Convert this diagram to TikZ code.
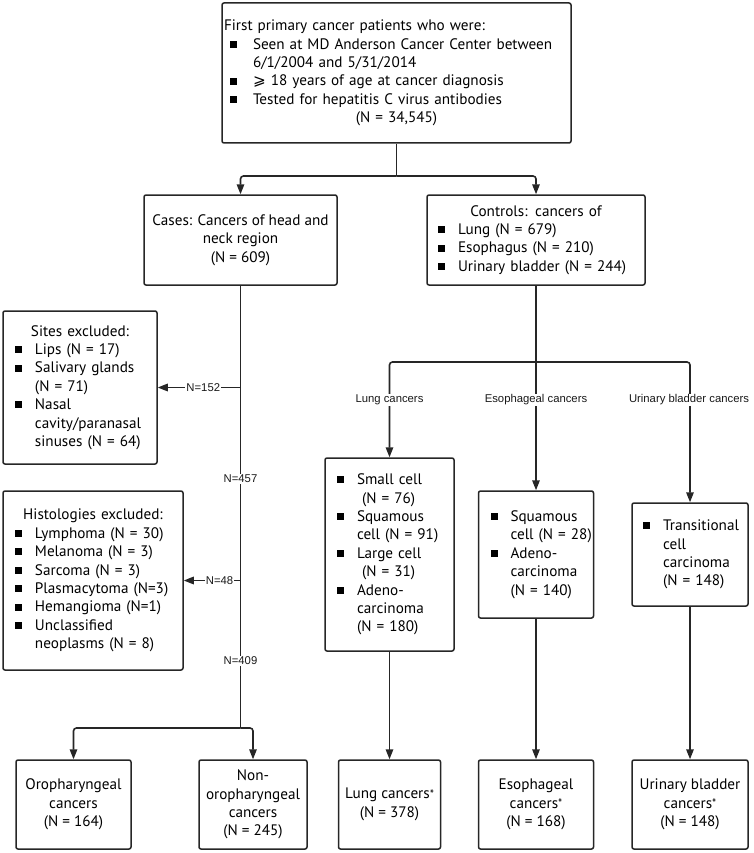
\documentclass[tikz,border=0pt]{standalone}
\usepackage{fontspec}
\setmainfont{PT Sans}
\newfontfamily\lblfont{Liberation Sans}
\newfontfamily\symfont{DejaVu Sans}
\usetikzlibrary{arrows.meta}
\newlength\bo
\newlength\bw
\newcommand{\sq}{\raisebox{1.2pt}{\rule{7pt}{7pt}}}
\newcommand{\bl}[1]{\mbox{\makebox[\bw][l]{\hspace*{\bo}\sq}#1}}
\newcommand{\cl}[1]{\mbox{\hspace*{\bw}#1}}
\newcommand{\ctr}[1]{\makebox[\linewidth]{#1}}
\newcommand{\msz}{\fontsize{15.2}{18.4}\selectfont}
\newcommand{\myast}{{\fontsize{12}{12}\selectfont\raisebox{0.5pt}{*}}}
\tikzset{
  box/.style={draw=black!85, line width=1.5pt, rounded corners=2pt, inner ysep=0pt, font=\msz, text=black},
  lbox/.style={box, align=left},
  cbox/.style={box, align=center, inner xsep=0pt},
  conn/.style={draw=black!85, line width=1.6pt},
  arr/.style={conn, -{Triangle[length=10pt,width=7.5pt]}},
  lbl/.style={fill=white, inner sep=1pt, font=\lblfont\fontsize{11.3}{13}\selectfont, text=black!90}
}
\begin{document}
\begin{tikzpicture}[x=1pt,y=-1pt]
\useasboundingbox (0,0) rectangle (753,853);

% top box
\node[lbox, minimum width=349pt, minimum height=140pt, text width=345pt, inner xsep=2pt] (top) at (396.5,73)
 {\setlength\bo{6pt}\setlength\bw{29pt}First primary cancer patients who were:\\
  \bl{Seen at MD Anderson Cancer Center between}\\
  \cl{6/1/2004 and 5/31/2014}\\
  \bl{{\symfont ⩾} 18 years of age at cancer diagnosis}\\
  \bl{Tested for hepatitis C virus antibodies}\\
  \ctr{(N = 34,545)}};

% cases / controls
\node[cbox, minimum width=193pt, minimum height=90pt] (cases) at (240.5,240)
 {Cases: Cancers of head and\\ neck region\\ (N = 609)};
\node[lbox, minimum width=218pt, minimum height=90pt, text width=196pt, inner xsep=11pt] (controls) at (536,240)
 {\setlength\bo{0pt}\setlength\bw{20pt}\ctr{Controls: cancers of}\\
  \bl{Lung (N = 679)}\\
  \bl{Esophagus (N = 210)}\\
  \bl{Urinary bladder (N = 244)}};

% exclusion boxes
\node[lbox, minimum width=154pt, minimum height=153pt, text width=130pt, inner xsep=12pt] (sites) at (80,387.5)
 {\setlength\bo{0pt}\setlength\bw{20pt}\ctr{Sites excluded:}\\
  \bl{Lips (N = 17)}\\
  \bl{Salivary glands}\\
  \cl{(N = 71)}\\
  \bl{Nasal}\\
  \cl{cavity/paranasal}\\
  \cl{sinuses (N = 64)}};
\node[lbox, minimum width=180pt, minimum height=179pt, text width=156pt, inner xsep=12pt] (histo) at (93,580.5)
 {\setlength\bo{0pt}\setlength\bw{20pt}\ctr{Histologies excluded:}\\
  \bl{Lymphoma (N = 30)}\\
  \bl{Melanoma (N = 3)}\\
  \bl{Sarcoma (N = 3)}\\
  \bl{Plasmacytoma (N=3)}\\
  \bl{Hemangioma (N=1)}\\
  \bl{Unclassified}\\
  \cl{neoplasms (N = 8)}};

% middle control boxes
\node[lbox, minimum width=129pt, minimum height=193pt, text width=105pt, inner xsep=12pt] (lungmid) at (389.5,554.5)
 {\setlength\bo{0pt}\setlength\bw{20pt}\bl{Small cell}\\
  \cl{\hspace*{5pt}(N = 76)}\\
  \bl{Squamous}\\
  \cl{cell (N = 91)}\\
  \bl{Large cell}\\
  \cl{\hspace*{5pt}(N = 31)}\\
  \bl{Adeno-}\\
  \cl{carcinoma}\\
  \cl{(N = 180)}};
\node[lbox, minimum width=115pt, minimum height=127pt, text width=91pt, inner xsep=12pt] (esomid) at (536,554.5)
 {\setlength\bo{0pt}\setlength\bw{20pt}\bl{Squamous}\\
  \cl{cell (N = 28)}\\
  \bl{Adeno-}\\
  \cl{carcinoma}\\
  \cl{(N = 140)}};
\node[lbox, minimum width=116pt, minimum height=103pt, text width=94pt, inner xsep=11pt] (urimid) at (690,554.5)
 {\setlength\bo{0pt}\setlength\bw{20pt}\bl{Transitional}\\
  \cl{cell}\\
  \cl{carcinoma}\\
  \cl{(N = 148)}};

% bottom boxes
\node[cbox, minimum width=115pt, minimum height=89pt] (oro) at (73.5,804.5)
 {Oropharyngeal\\ cancers\\ (N = 164)};
\node[cbox, minimum width=108pt, minimum height=89pt] (nonoro) at (253,804.5)
 {Non-\\ oropharyngeal\\ cancers\\ (N = 245)};
\node[cbox, minimum width=102pt, minimum height=89pt] (lungbot) at (389.5,804.5)
 {Lung cancers\myast\\ (N = 378)};
\node[cbox, minimum width=115pt, minimum height=89pt] (esobot) at (536,804.5)
 {Esophageal\\ cancers\myast\\ (N = 168)};
\node[cbox, minimum width=116pt, minimum height=89pt] (uribot) at (690,804.5)
 {Urinary bladder\\ cancers\myast\\ (N = 148)};

% junctions
\coordinate (j1) at (396.5,176);
\coordinate (j2) at (240.5,728);
\coordinate (j3) at (536,362);

% connectors
\draw[conn] (top.south) -- (j1);
\draw[arr, rounded corners=3pt] (j1) -| (cases.north);
\draw[arr, rounded corners=3pt] (j1) -| (controls.north);

\draw[conn] (cases.south) -- (j2);
\draw[arr, rounded corners=3pt] (j2) -| (oro.north);
\draw[arr, rounded corners=3pt] (j2) -| (nonoro.north);
\draw[arr] (cases.south |- sites.east) -- node[lbl, pos=0.45] (n152) {N=152} (sites.east);
\draw[arr] (cases.south |- histo.east) -- node[lbl, pos=0.37] (n48) {N=48} (histo.east);
\node[lbl] (n457) at (240.5,479) {N=457};
\node[lbl] (n409) at (240.5,661) {N=409};

\draw[conn] (controls.south) -- (j3);
\draw[arr, rounded corners=3pt] (j3) -| (lungmid.north);
\draw[arr] (j3) -- (esomid.north);
\draw[arr, rounded corners=3pt] (j3) -| (urimid.north);
\node[lbl] (llung) at (389.5,400) {Lung cancers};
\node[lbl] (leso) at (536,400) {Esophageal cancers};
\node[lbl] (luri) at (689,400) {Urinary bladder cancers};

\draw[arr] (lungmid.south) -- (lungbot.north);
\draw[arr] (esomid.south) -- (esobot.north);
\draw[arr] (urimid.south) -- (uribot.north);
\end{tikzpicture}
\end{document}
